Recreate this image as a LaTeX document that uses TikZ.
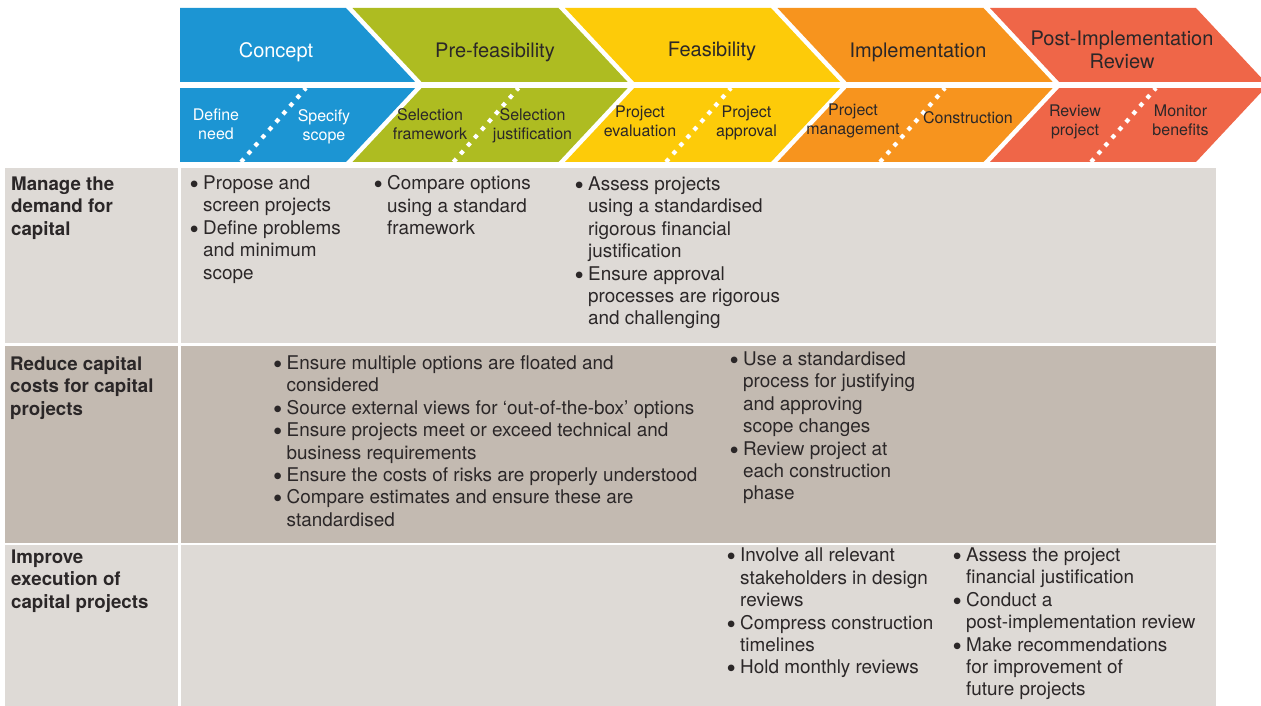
\documentclass[tikz,border=0pt]{standalone}
\usepackage{fontspec}
\setmainfont{TeX Gyre Heros}
\usepackage{tikz}
\usetikzlibrary{calc}

\definecolor{concept}{HTML}{1C95D3}
\definecolor{prefeas}{HTML}{AEBC21}
\definecolor{feas}{HTML}{FDCB09}
\definecolor{impl}{HTML}{F7941E}
\definecolor{postimpl}{HTML}{EF6648}
\definecolor{lightgrey}{HTML}{DEDAD6}
\definecolor{darkgrey}{HTML}{C3BAB1}
\definecolor{ink}{HTML}{2B2728}

\newcommand{\bul}{\makebox[13pt][l]{\hspace*{-0.5pt}\raisebox{-0.21em}{\scalebox{1.4}{\textbullet}}}}
\newcommand{\ind}{\hspace*{13pt}}

\begin{document}
\begin{tikzpicture}[x=1pt, y=-1pt,
    hdr/.style={font=\fontsize{20}{23.5}\selectfont, align=center, inner sep=0pt, text=ink},
    sub/.style={font=\fontsize{16}{19}\selectfont, align=center, inner sep=0pt, anchor=north, text=ink},
    body/.style={font=\fontsize{18.9}{22.4}\selectfont, align=left, inner sep=0pt, anchor=north west, text=ink},
    lbl/.style={body, font=\fontsize{18.7}{22.5}\selectfont\bfseries},
    dots/.style={white, line width=4.2pt, dash pattern=on 4.2pt off 6.4pt}]
    \useasboundingbox (0,0) rectangle (1261,706);

    % the five stages
    \fill[concept]  (180,8) -- (346,8) -- (418,85) -- (346,162) -- (180,162) -- cycle;
    \fill[prefeas]  (352.5,8) -- (558.5,8) -- (630.5,85) -- (558.5,162) -- (352.5,162) -- (424.5,85) -- cycle;
    \fill[feas]     (565,8) -- (771,8) -- (843,85) -- (771,162) -- (565,162) -- (637,85) -- cycle;
    \fill[impl]     (777.5,8) -- (983.5,8) -- (1055.5,85) -- (983.5,162) -- (777.5,162) -- (849.5,85) -- cycle;
    \fill[postimpl] (990,8) -- (1196,8) -- (1268,85) -- (1196,162) -- (990,162) -- (1062,85) -- cycle;

    % split into stage row and step row
    \fill[white] (170,82.5) rectangle (1270,88);

    \draw[dots] (241,162) -- (306,88);
    \draw[dots] (453.5,162) -- (518.5,88);
    \draw[dots] (666,162) -- (731,88);
    \draw[dots] (880,162) -- (945,88);
    \draw[dots] (1091,162) -- (1156,88);

    \node[hdr, anchor=base, text=white] (concept) at (276,58) {Concept};
    \node[hdr, anchor=base] (prefeas) at (495,58) {Pre-feasibility};
    \node[hdr, anchor=base] (feas) at (712,57) {Feasibility};
    \node[hdr, anchor=base] (impl) at (918,58) {Implementation};
    \node[hdr, anchor=north] (post) at (1122,30.6) {Post-Implementation\\Review};

    \node[sub, text=white] (need) at (216,108.5) {Define\\need};
    \node[sub, text=white] (scope) at (324,109.5) {Specify\\scope};
    \node[sub] (framework) at (430,108.5) {Selection\\framework};
    \node[sub] (justif) at (532.5,108.5) {Selection\\justification};
    \node[sub] (evaluation) at (640,105.5) {Project\\evaluation};
    \node[sub] (approval) at (746.5,105.5) {Project\\approval};
    \node[sub] (management) at (853,104) {Project\\management};
    \node[sub] (construction) at (968,111.5) {Construction};
    \node[sub] (review) at (1075,104.5) {Review\\project};
    \node[sub] (benefits) at (1180.5,104.5) {Monitor\\benefits};

    % table
    \fill[lightgrey] (5,168) rectangle (178,343);
    \fill[lightgrey] (181,168) rectangle (1216,343);
    \fill[darkgrey]  (5,346) rectangle (178,543);
    \fill[darkgrey]  (181,346) rectangle (1216,543);
    \fill[lightgrey] (5,545) rectangle (178,706);
    \fill[lightgrey] (181,545) rectangle (1216,706);

    \node[lbl] (demand) at (11,176.5) {Manage the\\demand for\\capital};
    \node[lbl] (costs) at (10,356) {Reduce capital\\costs for capital\\projects};
    \node[lbl] (execution) at (11,549.5) {Improve\\execution of\\capital projects};

    \node[body] (demandA) at (190,175.5) {\bul Propose and\\\ind screen projects\\\bul Define problems\\\ind and minimum\\\ind scope};
    \node[body] (demandB) at (374,175.5) {\bul Compare options\\\ind using a standard\\\ind framework};
    \node[body] (demandC) at (575,176.5) {\bul Assess projects\\\ind using a standardised\\\ind rigorous financial\\\ind justification\\\bul Ensure approval\\\ind processes are rigorous\\\ind and challenging};

    \node[body] (costsA) at (273.5,355.5) {\bul Ensure multiple options are floated and\\\ind considered\\\bul Source external views for ‘out-of-the-box’ options\\\bul Ensure projects meet or exceed technical and\\\ind business requirements\\\bul Ensure the costs of risks are properly understood\\\bul Compare estimates and ensure these are\\\ind standardised};
    \node[body] (costsB) at (730,351.5) {\bul Use a standardised\\\ind process for justifying\\\ind and approving\\\ind scope changes\\\bul Review project at\\\ind each construction\\\ind phase};

    \node[body] (executionA) at (727,548) {\bul Involve all relevant\\\ind stakeholders in design\\\ind reviews\\\bul Compress construction\\\ind timelines\\\bul Hold monthly reviews};
    \node[body] (executionB) at (953,547.5) {\bul Assess the project\\\ind financial justification\\\bul Conduct a\\\ind post-implementation review\\\bul Make recommendations\\\ind for improvement of\\\ind future projects};

\end{tikzpicture}
\end{document}
